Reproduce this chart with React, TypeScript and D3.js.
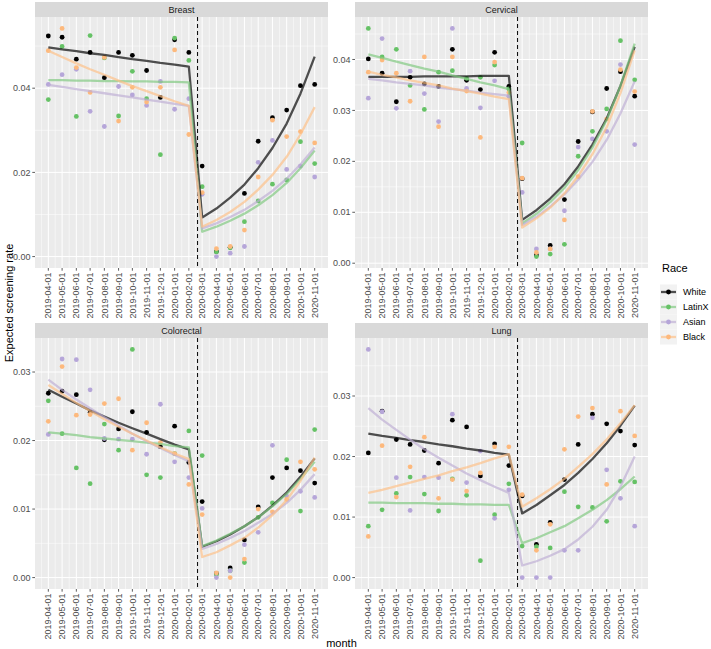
import React from 'react';
import * as d3 from 'd3';

const months = [
  '2019-04-01', '2019-05-01', '2019-06-01', '2019-07-01', '2019-08-01', '2019-09-01', '2019-10-01',
  '2019-11-01', '2019-12-01', '2020-01-01', '2020-02-01', '2020-03-01', '2020-04-01', '2020-05-01',
  '2020-06-01', '2020-07-01', '2020-08-01', '2020-09-01', '2020-10-01', '2020-11-01',
];
const interventionDate = '2020-02-20';
const races = ['White', 'LatinX', 'Asian', 'Black'];
const pointColors = ['#000000', '#66C266', '#B6A6D9', '#FDB97D'];
const lineColors = ['#000000', '#7FC97F', '#BEAED4', '#FDC086'];

// Breast
const breastWhite = [0.0524, 0.0521, 0.0469, 0.0485, 0.0425, 0.0485, 0.0478, 0.0442, 0.0378, 0.0515, 0.0485, 0.0215, 0.0012, 0.0022, 0.0150, 0.0274, 0.0330, 0.0348, 0.0406, 0.0409];
const breastLatinX = [0.0373, 0.0499, 0.0333, 0.0525, 0.0472, 0.0334, 0.0440, 0.0375, 0.0242, 0.0519, 0.0466, 0.0166, 0.0011, 0.0021, 0.0083, 0.0132, 0.0172, 0.0182, 0.0273, 0.0221];
const breastAsian = [0.0409, 0.0432, 0.0445, 0.0345, 0.0309, 0.0404, 0.0384, 0.0359, 0.0416, 0.0350, 0.0375, 0.0148, 0.0000, 0.0008, 0.0024, 0.0224, 0.0276, 0.0207, 0.0215, 0.0189];
const breastBlack = [0.0489, 0.0542, 0.0449, 0.0390, 0.0473, 0.0322, 0.0402, 0.0367, 0.0402, 0.0491, 0.0290, 0.0152, 0.0019, 0.0024, 0.0063, 0.0189, 0.0324, 0.0285, 0.0297, 0.0270];
const breastWhiteFit = [0.0497, 0.0492, 0.0488, 0.0483, 0.0479, 0.0474, 0.0469, 0.0465, 0.0460, 0.0456, 0.0451, 0.0093, 0.0114, 0.0140, 0.0171, 0.0210, 0.0258, 0.0316, 0.0387, 0.0475];
const breastLatinXFit = [0.0419, 0.0419, 0.0418, 0.0418, 0.0417, 0.0417, 0.0416, 0.0416, 0.0415, 0.0415, 0.0414, 0.0059, 0.0071, 0.0085, 0.0102, 0.0122, 0.0146, 0.0175, 0.0210, 0.0252];
const breastAsianFit = [0.0408, 0.0403, 0.0398, 0.0393, 0.0388, 0.0383, 0.0378, 0.0373, 0.0368, 0.0363, 0.0358, 0.0067, 0.0079, 0.0094, 0.0111, 0.0132, 0.0156, 0.0185, 0.0219, 0.0259];
const breastBlackFit = [0.0489, 0.0474, 0.0459, 0.0445, 0.0432, 0.0418, 0.0405, 0.0393, 0.0381, 0.0369, 0.0358, 0.0071, 0.0087, 0.0106, 0.0130, 0.0159, 0.0194, 0.0237, 0.0290, 0.0355];
const breastTicks = [0, 0.02, 0.04];

// Cervical
const cervicalWhite = [0.0401, 0.0373, 0.0317, 0.0365, 0.0352, 0.0347, 0.0420, 0.0359, 0.0341, 0.0414, 0.0347, 0.0166, 0.0016, 0.0035, 0.0125, 0.0239, 0.0297, 0.0343, 0.0376, 0.0328];
const cervicalLatinX = [0.0461, 0.0405, 0.0420, 0.0349, 0.0302, 0.0375, 0.0378, 0.0363, 0.0365, 0.0389, 0.0342, 0.0236, 0.0013, 0.0018, 0.0037, 0.0210, 0.0259, 0.0303, 0.0437, 0.0360];
const cervicalAsian = [0.0324, 0.0441, 0.0304, 0.0377, 0.0333, 0.0278, 0.0461, 0.0343, 0.0305, 0.0358, 0.0328, 0.0139, 0.0028, 0.0028, 0.0103, 0.0228, 0.0244, 0.0259, 0.0390, 0.0233];
const cervicalBlack = [0.0375, 0.0399, 0.0373, 0.0318, 0.0405, 0.0268, 0.0405, 0.0338, 0.0247, 0.0395, 0.0335, 0.0167, 0.0021, 0.0028, 0.0085, 0.0170, 0.0298, 0.0283, 0.0380, 0.0337];
const cervicalWhiteFit = [0.0366, 0.0366, 0.0366, 0.0366, 0.0367, 0.0367, 0.0367, 0.0367, 0.0368, 0.0368, 0.0368, 0.0085, 0.0104, 0.0127, 0.0155, 0.0190, 0.0233, 0.0284, 0.0348, 0.0425];
const cervicalLatinXFit = [0.0410, 0.0403, 0.0396, 0.0389, 0.0382, 0.0376, 0.0369, 0.0362, 0.0355, 0.0349, 0.0342, 0.0078, 0.0097, 0.0120, 0.0148, 0.0183, 0.0227, 0.0281, 0.0348, 0.0431];
const cervicalAsianFit = [0.0362, 0.0359, 0.0355, 0.0352, 0.0349, 0.0345, 0.0342, 0.0339, 0.0335, 0.0332, 0.0329, 0.0075, 0.0091, 0.0111, 0.0135, 0.0164, 0.0199, 0.0242, 0.0294, 0.0357];
const cervicalBlackFit = [0.0376, 0.0370, 0.0365, 0.0359, 0.0354, 0.0349, 0.0343, 0.0338, 0.0333, 0.0327, 0.0322, 0.0070, 0.0088, 0.0109, 0.0137, 0.0171, 0.0214, 0.0267, 0.0334, 0.0418];
const cervicalTicks = [0, 0.01, 0.02, 0.03, 0.04];

// Colorectal
const colorectalWhite = [0.0269, 0.0272, 0.0267, 0.0241, 0.0201, 0.0217, 0.0242, 0.0212, 0.0191, 0.0221, 0.0168, 0.0111, 0.0006, 0.0014, 0.0055, 0.0103, 0.0146, 0.0160, 0.0156, 0.0138];
const colorectalLatinX = [0.0258, 0.0210, 0.0160, 0.0137, 0.0224, 0.0186, 0.0333, 0.0150, 0.0146, 0.0181, 0.0214, 0.0178, 0.0004, 0.0010, 0.0022, 0.0088, 0.0109, 0.0172, 0.0097, 0.0216];
const colorectalAsian = [0.0209, 0.0319, 0.0318, 0.0274, 0.0203, 0.0202, 0.0202, 0.0180, 0.0253, 0.0169, 0.0146, 0.0101, 0.0000, 0.0010, 0.0048, 0.0066, 0.0193, 0.0119, 0.0126, 0.0117];
const colorectalBlack = [0.0228, 0.0308, 0.0237, 0.0238, 0.0254, 0.0261, 0.0186, 0.0226, 0.0197, 0.0181, 0.0136, 0.0092, 0.0007, 0.0000, 0.0027, 0.0100, 0.0096, 0.0114, 0.0169, 0.0158];
const colorectalWhiteFit = [0.0274, 0.0264, 0.0254, 0.0244, 0.0235, 0.0226, 0.0218, 0.0210, 0.0202, 0.0194, 0.0187, 0.0045, 0.0053, 0.0063, 0.0075, 0.0088, 0.0105, 0.0124, 0.0147, 0.0174];
const colorectalLatinXFit = [0.0212, 0.0210, 0.0208, 0.0205, 0.0203, 0.0201, 0.0199, 0.0197, 0.0195, 0.0192, 0.0190, 0.0046, 0.0054, 0.0064, 0.0075, 0.0088, 0.0104, 0.0122, 0.0144, 0.0169];
const colorectalAsianFit = [0.0289, 0.0274, 0.0260, 0.0247, 0.0234, 0.0222, 0.0210, 0.0199, 0.0189, 0.0179, 0.0170, 0.0042, 0.0049, 0.0058, 0.0068, 0.0080, 0.0093, 0.0109, 0.0128, 0.0151];
const colorectalBlackFit = [0.0281, 0.0268, 0.0255, 0.0243, 0.0231, 0.0220, 0.0210, 0.0200, 0.0190, 0.0181, 0.0173, 0.0030, 0.0037, 0.0047, 0.0058, 0.0073, 0.0091, 0.0113, 0.0141, 0.0175];
const colorectalTicks = [0, 0.01, 0.02, 0.03];

// Lung
const lungWhite = [0.0206, 0.0275, 0.0228, 0.0220, 0.0210, 0.0189, 0.0260, 0.0249, 0.0168, 0.0221, 0.0185, 0.0135, 0.0055, 0.0091, 0.0162, 0.0220, 0.0270, 0.0254, 0.0242, 0.0219];
const lungLatinX = [0.0085, 0.0112, 0.0139, 0.0166, 0.0138, 0.0110, 0.0163, 0.0136, 0.0028, 0.0104, 0.0155, 0.0052, 0.0051, 0.0049, 0.0142, 0.0117, 0.0116, 0.0093, 0.0159, 0.0158];
const lungAsian = [0.0377, 0.0274, 0.0165, 0.0111, 0.0166, 0.0165, 0.0270, 0.0157, 0.0209, 0.0098, 0.0145, 0.0000, 0.0000, 0.0000, 0.0045, 0.0045, 0.0264, 0.0178, 0.0131, 0.0085];
const lungBlack = [0.0068, 0.0218, 0.0133, 0.0183, 0.0232, 0.0131, 0.0162, 0.0143, 0.0173, 0.0216, 0.0216, 0.0137, 0.0045, 0.0088, 0.0212, 0.0266, 0.0280, 0.0154, 0.0275, 0.0234];
const lungWhiteFit = [0.0238, 0.0234, 0.0231, 0.0227, 0.0224, 0.0220, 0.0217, 0.0213, 0.0210, 0.0206, 0.0203, 0.0106, 0.0120, 0.0136, 0.0153, 0.0173, 0.0196, 0.0222, 0.0251, 0.0284];
const lungLatinXFit = [0.0124, 0.0124, 0.0123, 0.0123, 0.0123, 0.0122, 0.0122, 0.0121, 0.0121, 0.0120, 0.0120, 0.0057, 0.0065, 0.0075, 0.0085, 0.0098, 0.0112, 0.0128, 0.0146, 0.0167];
const lungAsianFit = [0.0280, 0.0261, 0.0244, 0.0228, 0.0212, 0.0198, 0.0185, 0.0172, 0.0161, 0.0150, 0.0140, 0.0020, 0.0027, 0.0036, 0.0047, 0.0063, 0.0084, 0.0112, 0.0150, 0.0200];
const lungBlackFit = [0.0140, 0.0145, 0.0151, 0.0157, 0.0163, 0.0169, 0.0176, 0.0182, 0.0189, 0.0197, 0.0204, 0.0117, 0.0131, 0.0146, 0.0163, 0.0183, 0.0204, 0.0228, 0.0255, 0.0285];
const lungTicks = [0, 0.01, 0.02, 0.03];

const panels = [
  { title: 'Breast', pts: [breastWhite, breastLatinX, breastAsian, breastBlack], fits: [breastWhiteFit, breastLatinXFit, breastAsianFit, breastBlackFit], ticks: breastTicks, col: 0, row: 0 },
  { title: 'Cervical', pts: [cervicalWhite, cervicalLatinX, cervicalAsian, cervicalBlack], fits: [cervicalWhiteFit, cervicalLatinXFit, cervicalAsianFit, cervicalBlackFit], ticks: cervicalTicks, col: 1, row: 0 },
  { title: 'Colorectal', pts: [colorectalWhite, colorectalLatinX, colorectalAsian, colorectalBlack], fits: [colorectalWhiteFit, colorectalLatinXFit, colorectalAsianFit, colorectalBlackFit], ticks: colorectalTicks, col: 0, row: 1 },
  { title: 'Lung', pts: [lungWhite, lungLatinX, lungAsian, lungBlack], fits: [lungWhiteFit, lungLatinXFit, lungAsianFit, lungBlackFit], ticks: lungTicks, col: 1, row: 1 },
];

const W = 711;
const H = 649;
const FONT = "'Liberation Sans', Arial, Helvetica, sans-serif";
const colX = [35, 355];
const rowY = [17, 338];
const PW = 293;
const PH = 251;
const STRIP = 15;

const parse = d3.utcParse('%Y-%m-%d');
const dates = months.map((m) => parse(m) as Date);
const t0 = dates[0].getTime();
const t1 = dates[dates.length - 1].getTime();
const span = t1 - t0;

function Panel({ p }: { p: any }) {
  const left = colX[p.col];
  const top = rowY[p.row];
  const x = d3.scaleUtc().domain([new Date(t0 - 0.05 * span), new Date(t1 + 0.05 * span)]).range([left, left + PW]);
  const all = [...p.pts.flat(), ...p.fits.flat()];
  const [mn, mx] = d3.extent(all) as [number, number];
  const ex = (mx - mn) * 0.05;
  const y = d3.scaleLinear().domain([mn - ex, mx + ex]).range([top + PH, top]);
  const [d0, d1] = y.domain();

  const step = p.ticks[1] - p.ticks[0];
  const yMinor: number[] = [];
  for (let v = p.ticks[0] - step / 2; v <= p.ticks[p.ticks.length - 1] + step / 2 + 1e-9; v += step) {
    if (v >= d0 && v <= d1) yMinor.push(v);
  }
  const xMinor: number[] = [];
  for (let i = 0; i < dates.length - 1; i++) xMinor.push((dates[i].getTime() + dates[i + 1].getTime()) / 2);
  xMinor.unshift(dates[0].getTime() - (dates[1].getTime() - dates[0].getTime()) / 2);
  xMinor.push(dates[dates.length - 1].getTime() + (dates[dates.length - 1].getTime() - dates[dates.length - 2].getTime()) / 2);

  const line = d3.line<number>().x((_, i) => x(dates[i])).y((v) => y(v));
  const vx = x(parse(interventionDate) as Date);
  const fmt = d3.format('.2f');

  return (
    <g>
      <rect x={left} y={top - STRIP} width={PW} height={STRIP} fill="#D9D9D9" />
      <text x={left + PW / 2} y={top - STRIP / 2} dy="0.35em" textAnchor="middle" fontSize={9} fill="#1A1A1A" fontFamily={FONT}>{p.title}</text>
      <rect x={left} y={top} width={PW} height={PH} fill="#EBEBEB" />
      <clipPath id={'clip-' + p.title}>
        <rect x={left} y={top} width={PW} height={PH} />
      </clipPath>
      <g clipPath={`url(#clip-${p.title})`}>
        {yMinor.map((v, i) => (
          <line key={'ym' + i} x1={left} x2={left + PW} y1={y(v)} y2={y(v)} stroke="#fff" strokeWidth={0.5} />
        ))}
        {xMinor.map((t, i) => (
          <line key={'xm' + i} x1={x(new Date(t))} x2={x(new Date(t))} y1={top} y2={top + PH} stroke="#fff" strokeWidth={0.5} />
        ))}
        {p.ticks.map((v: number, i: number) => (
          <line key={'yM' + i} x1={left} x2={left + PW} y1={y(v)} y2={y(v)} stroke="#fff" strokeWidth={1} />
        ))}
        {dates.map((d, i) => (
          <line key={'xM' + i} x1={x(d)} x2={x(d)} y1={top} y2={top + PH} stroke="#fff" strokeWidth={1} />
        ))}
        <line x1={vx} x2={vx} y1={top} y2={top + PH} stroke="#000" strokeWidth={1} strokeDasharray="4,3" />
        {p.pts.map((s: number[], r: number) => (
          <g key={'p' + r}>
            {s.map((v, i) => (
              <circle key={i} cx={x(dates[i])} cy={y(v)} r={2.4} fill={pointColors[r]} />
            ))}
          </g>
        ))}
        {p.fits.map((s: number[], r: number) => (
          <path key={'f' + r} d={line(s) || ''} fill="none" stroke={lineColors[r]} strokeOpacity={0.68} strokeWidth={2.3} strokeLinejoin="round" />
        ))}
      </g>
      {p.ticks.map((v: number, i: number) => (
        <g key={'yt' + i}>
          <line x1={left - 2.7} x2={left} y1={y(v)} y2={y(v)} stroke="#333" strokeWidth={0.8} />
          <text x={left - 4.5} y={y(v)} dy="0.35em" textAnchor="end" fontSize={9} fill="#4D4D4D" fontFamily={FONT}>{fmt(v)}</text>
        </g>
      ))}
      {dates.map((d, i) => (
        <g key={'xt' + i}>
          <line x1={x(d)} x2={x(d)} y1={top + PH} y2={top + PH + 2.7} stroke="#333" strokeWidth={0.8} />
          <text transform={`translate(${x(d)},${top + PH + 4.5}) rotate(-90)`} dy="0.35em" textAnchor="end" fontSize={9} fill="#4D4D4D" fontFamily={FONT}>{months[i]}</text>
        </g>
      ))}
    </g>
  );
}

function Legend() {
  const lx = 660;
  const ky = [292, 307, 322, 337];
  return (
    <g fontFamily={FONT}>
      <text x={lx + 2} y={272} fontSize={11} fill="#000">Race</text>
      {races.map((r, i) => (
        <g key={r}>
          <rect x={lx} y={ky[i] - 7.5} width={17} height={15} fill="#F2F2F2" />
          <line x1={lx + 1} x2={lx + 16} y1={ky[i]} y2={ky[i]} stroke={lineColors[i]} strokeOpacity={0.68} strokeWidth={2.3} />
          <circle cx={lx + 8.5} cy={ky[i]} r={2.4} fill={pointColors[i]} />
          <text x={lx + 23} y={ky[i]} dy="0.35em" fontSize={9} fill="#000">{r}</text>
        </g>
      ))}
    </g>
  );
}

export default function App() {
  return (
    <svg width={W} height={H} style={{ position: 'absolute', left: 0, top: 0, background: '#fff' }}>
      <rect x={0} y={0} width={W} height={H} fill="#fff" />
      {panels.map((p) => (
        <Panel key={p.title} p={p} />
      ))}
      <text transform={`translate(9,${(rowY[0] + rowY[1] + PH) / 2}) rotate(-90)`} dy="0.35em" textAnchor="middle" fontSize={11} fill="#000" fontFamily={FONT}>Expected screening rate</text>
      <text x={(colX[0] + colX[1] + PW) / 2} y={643} dy="0.35em" textAnchor="middle" fontSize={11} fill="#000" fontFamily={FONT}>month</text>
      <Legend />
    </svg>
  );
}
